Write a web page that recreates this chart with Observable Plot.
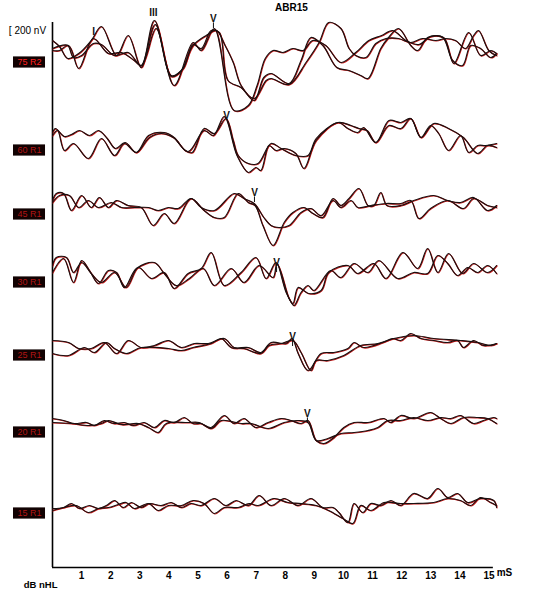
<!DOCTYPE html>
<html><head><meta charset="utf-8">
<script src="https://cdn.jsdelivr.net/npm/d3@7"></script>
<script src="https://cdn.jsdelivr.net/npm/@observablehq/plot@0.6"></script>
<style>html,body{margin:0;padding:0;background:#fff}</style>
</head><body><div id="chart"></div>
<script>
// ---------- data ----------
const title = "ABR15";
const scaleLabel = "[ 200 nV";
const xUnit = "mS";
const levelUnit = "dB nHL";
const xTicks = [1,2,3,4,5,6,7,8,9,10,11,12,13,14,15];
const rowLabels = ["75 R2","60 R1","45 R1","30 R1","25 R1","20 R1","15 R1"];

// peak markers (time ms, amplitude nV in plot coordinates)
const waveNames  = ["I","III","V","V","V","V","V","V"];
const waveTimes  = [1.41, 3.47, 5.53, 5.98, 6.94, 7.70, 8.25, 8.76];
const waveValues = [155, 250, 220, -265, -650, -1000, -1370, -1755];
const waveHasTick = [false, false, true, false, true, true, true, true];

// waveforms: [time ms, amplitude nV] relative to each row baseline
const r75a = [[0,110],[0.24,80],[0.52,20],[0.90,45],[1.33,110],[1.68,180],[2.20,35],[2.60,135],[3.05,-25],[3.50,210],[4.18,-115],[4.83,100],[5.11,60],[5.56,170],[6.24,-240],[6.73,-215],[7.03,-115],[7.31,20],[7.58,60],[7.92,50],[8.26,70],[8.61,60],[8.94,110],[9.39,85],[9.91,0],[10.42,50],[10.87,110],[11.31,135],[11.69,160],[12.14,110],[12.59,90],[12.99,130],[13.41,125],[13.75,10],[14.09,-15],[14.37,85],[14.71,70],[15.06,25],[15.26,45]];
const r75b = [[0,70],[0.55,85],[0.90,-30],[1.40,120],[1.92,45],[2.37,50],[2.81,10],[3.05,-15],[3.53,190],[4.08,-65],[4.49,-30],[4.83,90],[5.11,70],[5.45,160],[5.73,150],[6.03,-90],[6.48,-125],[6.93,-190],[7.26,-75],[7.51,-55],[8.13,-105],[8.54,10],[8.88,125],[9.29,85],[9.77,-25],[10.19,-40],[10.59,-65],[10.84,-80],[11.28,70],[11.52,120],[11.89,170],[12.31,85],[12.55,60],[12.89,125],[13.44,125],[13.79,-5],[14.30,150],[14.71,35],[15.06,60],[15.26,45]];
const r75c = [[0,60],[0.24,60],[0.52,85],[0.72,25],[1.00,35],[1.40,95],[1.68,90],[2.13,35],[2.60,50],[3.05,-15],[3.56,170],[4.08,-70],[4.43,-40],[4.83,85],[5.28,135],[5.63,160],[5.93,85],[6.21,0],[6.48,-115],[6.93,-180],[7.34,-90],[7.51,-80],[8.13,-110],[8.71,0],[9.16,100],[9.49,200],[9.91,170],[10.19,70],[10.42,35],[10.77,25],[11.11,95],[11.46,120],[11.89,120],[12.31,100],[12.72,120],[13.17,110],[13.51,120],[13.85,110],[14.19,70],[14.47,135],[14.64,160],[14.99,60],[15.26,35]];

const r60a = [[0,90],[0.10,110],[0.41,70],[0.65,80],[0.93,100],[1.27,75],[1.58,100],[1.88,60],[2.16,10],[2.50,40],[2.88,-10],[3.33,65],[3.73,85],[4.15,65],[4.66,-5],[5.21,100],[5.53,75],[5.90,170],[6.34,-25],[6.73,-110],[6.99,-85],[7.16,-100],[7.44,25],[7.68,0],[7.96,10],[8.36,-15],[8.64,-90],[9.06,50],[9.81,140],[10.15,110],[10.49,90],[10.69,115],[11.11,40],[11.56,150],[11.97,140],[12.31,160],[12.66,65],[12.99,125],[13.27,85],[13.61,0],[14.02,75],[14.30,-10],[14.61,25],[14.89,25],[15.26,35]];
const r60b = [[0,75],[0.17,100],[0.41,0],[0.72,35],[1.23,-40],[1.68,60],[2.13,-25],[2.47,35],[2.88,-10],[3.30,75],[3.84,90],[4.18,65],[4.56,0],[4.80,-10],[5.21,110],[5.56,85],[5.96,160],[6.21,50],[6.38,-25],[6.73,-65],[7.06,-65],[7.51,35],[7.86,10],[8.36,-25],[8.78,-25],[9.06,60],[9.81,140],[10.26,125],[10.53,110],[10.81,100],[11.11,40],[11.56,125],[11.97,110],[12.31,160],[12.66,65],[13.10,135],[13.61,110],[14.12,65],[14.61,-15],[14.95,25],[15.26,15]];

const r45a = [[0,70],[0.13,105],[0.38,105],[0.65,20],[1.00,95],[1.33,35],[1.61,85],[1.92,35],[2.20,70],[2.60,45],[3.05,35],[3.46,-55],[3.84,5],[4.18,-45],[4.76,80],[5.21,20],[5.56,-15],[5.90,-15],[6.38,105],[6.73,60],[6.96,45],[7.23,-55],[7.58,-155],[7.96,-40],[8.26,10],[8.64,35],[8.95,5],[9.29,-15],[9.64,80],[9.91,45],[10.19,80],[10.53,130],[10.84,45],[11.04,45],[11.28,110],[11.49,45],[11.97,45],[12.41,70],[13.10,95],[13.58,70],[14.02,60],[14.47,85],[14.95,20],[15.26,45]];
const r45b = [[0,60],[0.24,95],[0.58,95],[0.90,35],[1.23,70],[1.58,35],[2.02,60],[2.37,35],[2.81,35],[3.30,35],[3.63,20],[3.98,35],[4.32,30],[4.76,80],[5.11,35],[5.56,20],[6.24,105],[6.58,80],[6.93,55],[7.26,-15],[7.51,-55],[7.78,-65],[8.13,-55],[8.54,10],[8.88,30],[9.23,-5],[9.64,70],[9.91,35],[10.26,70],[10.49,35],[10.94,45],[11.46,55],[11.97,55],[12.31,70],[12.59,-20],[12.99,30],[13.58,70],[14.12,30],[14.47,80],[14.95,45],[15.26,35]];

const r30a = [[0,85],[0.13,125],[0.48,125],[0.72,50],[1.00,100],[1.33,45],[1.68,0],[2.13,50],[2.53,-25],[2.95,75],[3.40,20],[3.84,50],[4.18,-30],[4.66,45],[5.11,70],[5.45,150],[5.90,-15],[6.48,50],[6.99,125],[7.34,20],[7.68,100],[8.13,-80],[8.30,-115],[8.54,-50],[8.78,-15],[8.98,-40],[9.56,60],[9.91,25],[10.36,95],[10.84,50],[11.21,110],[11.86,20],[12.41,50],[12.89,45],[13.24,135],[13.58,95],[13.92,35],[14.27,75],[14.61,50],[14.95,85],[15.26,45]];
const r30b = [[0,50],[0.38,120],[0.72,0],[1.00,110],[1.27,60],[1.58,-5],[1.92,60],[2.20,50],[2.47,-25],[2.88,70],[3.50,100],[3.84,45],[4.25,-15],[4.70,20],[5.18,70],[5.56,-15],[6.14,70],[6.58,0],[7.10,85],[7.58,25],[7.71,95],[8.03,-50],[8.26,-105],[8.44,-25],[8.81,-55],[9.23,-40],[9.49,50],[10.15,85],[10.49,45],[11.04,95],[11.46,20],[12.04,150],[12.55,70],[12.89,170],[13.24,50],[13.61,145],[14.09,45],[14.47,95],[14.95,50],[15.26,85]];

const r25a = [[0,75],[0.55,65],[0.90,35],[1.33,35],[1.78,65],[2.20,10],[2.60,75],[3.05,40],[3.50,50],[3.98,75],[4.43,40],[4.87,60],[5.35,60],[5.90,85],[6.24,40],[6.73,40],[7.16,15],[7.51,65],[8.03,60],[8.23,85],[8.44,10],[8.78,-75],[9.23,10],[9.67,15],[10.15,35],[10.36,65],[10.69,40],[11.35,65],[11.69,85],[11.97,75],[12.31,110],[12.66,85],[13.10,75],[13.58,65],[13.92,75],[14.12,40],[14.47,75],[14.81,50],[15.26,60]];
const r25b = [[0,10],[0.55,0],[1.10,40],[1.44,15],[1.85,65],[2.13,35],[2.53,10],[3.05,40],[3.98,35],[4.43,25],[4.83,40],[5.45,60],[5.80,85],[6.14,40],[6.58,35],[7.16,10],[7.44,50],[7.86,60],[8.26,75],[8.54,15],[8.88,-75],[9.06,-25],[9.46,-25],[10.01,0],[10.59,50],[11.18,60],[11.73,85],[12.41,100],[13.10,85],[14.02,75],[14.61,65],[15.06,50],[15.26,60]];

const r20a = [[0,70],[0.38,60],[0.75,45],[1.17,50],[1.44,35],[1.78,60],[2.10,45],[2.47,50],[2.78,35],[3.15,50],[3.50,25],[3.84,60],[4.18,50],[4.53,75],[4.83,45],[5.11,45],[5.45,25],[5.90,85],[6.24,45],[6.58,70],[6.99,25],[7.41,50],[7.86,70],[8.20,60],[8.54,45],[8.78,60],[9.06,-40],[9.33,-55],[9.67,-25],[10.01,25],[10.36,50],[10.84,50],[11.39,70],[11.62,50],[11.97,85],[12.41,70],[12.99,100],[13.34,70],[13.69,45],[14.12,75],[14.61,75],[14.95,70],[15.26,45]];
const r20b = [[0,50],[0.65,45],[1.27,35],[1.68,45],[1.92,60],[2.37,40],[2.95,45],[3.30,25],[3.63,0],[3.91,45],[4.66,50],[5.04,50],[5.45,20],[5.80,60],[6.48,45],[6.83,45],[7.41,20],[7.96,50],[8.44,60],[8.78,50],[9.06,-40],[9.46,-30],[9.91,-5],[10.36,0],[10.84,10],[11.18,25],[11.52,60],[11.97,60],[12.41,75],[12.89,60],[13.34,75],[13.69,70],[14.02,85],[14.47,45],[14.81,60],[15.16,75],[15.26,70]];

const r15a = [[0,25],[0.38,30],[0.65,50],[0.93,25],[1.27,40],[1.58,25],[1.85,40],[2.13,65],[2.43,30],[2.71,55],[3.05,30],[3.33,50],[3.73,40],[4.08,55],[4.43,30],[4.76,50],[5.11,40],[5.56,75],[5.96,40],[6.31,65],[6.73,40],[7.10,90],[7.51,40],[7.96,75],[8.44,40],[8.88,75],[9.29,30],[9.64,30],[9.84,5],[10.15,-45],[10.36,50],[10.66,5],[10.94,50],[11.28,40],[11.63,65],[11.97,40],[12.41,100],[12.89,75],[13.24,125],[13.58,80],[13.92,100],[14.27,55],[14.71,75],[15.16,65],[15.26,30]];
const r15b = [[0,15],[0.38,30],[0.82,40],[1.23,5],[1.58,25],[1.92,30],[2.26,45],[2.53,55],[2.81,25],[3.30,50],[3.63,15],[3.98,40],[4.43,40],[4.83,65],[5.21,50],[5.56,0],[5.90,30],[6.38,30],[6.76,50],[7.06,40],[7.61,75],[8.09,55],[8.54,50],[9.06,40],[9.49,15],[9.98,-25],[10.32,-50],[10.59,40],[10.94,15],[11.39,55],[11.97,50],[12.41,50],[13.10,55],[13.58,75],[14.02,65],[14.37,40],[14.71,80],[15.06,55],[15.26,40]];

// ---------- layout ----------
const rowOffset = [0, -440, -760, -1100, -1465, -1850, -2255]; // nV baseline per row
const traces = [
  [0, r75a], [0, r75b], [0, r75c],
  [1, r60a], [1, r60b],
  [2, r45a], [2, r45b],
  [3, r30a], [3, r30b],
  [4, r25a], [4, r25b],
  [5, r20a], [5, r20b],
  [6, r15a], [6, r15b]
];
const lineData = traces.flatMap(([row, pts], id) =>
  pts.map(([t, v]) => ({id, t, v: v + rowOffset[row]})));
const labelData = rowLabels.map((label, i) => ({label, y: rowOffset[i], first: i === 0}));
const waveData = waveNames.map((name, i) => ({name, t: waveTimes[i], v: waveValues[i], tick: waveHasTick[i]}));

const yBottom = -2525, yTop = 210;
const font = "Liberation Sans, Arial, sans-serif";

const chart = Plot.plot({
  width: 541, height: 600,
  marginLeft: 52, marginRight: 52.5, marginTop: 20, marginBottom: 33,
  x: {domain: [0, 15], axis: null},
  y: {domain: [yBottom, yTop], axis: null},
  style: {fontFamily: font, background: "#fff", color: "#000"},
  marks: [
    // axes frame
    Plot.ruleY([yBottom], {x1: 0, x2: 15.15, stroke: "#000", strokeWidth: 1.6}),
    Plot.ruleX([0], {y1: 200, y2: yBottom, stroke: "#000", strokeWidth: 1.6}),
    Plot.axisX({ticks: xTicks, tickSize: 0, tickPadding: 4, label: null, fontSize: 10, fontWeight: "bold", tickFormat: d => String(d)}),
    // waveforms: red fringe then dark line
    Plot.line(lineData, {x: "t", y: "v", z: "id", curve: "catmull-rom", stroke: "#c81818", strokeWidth: 1.2, dx: 0.5, dy: 0.5}),
    Plot.line(lineData, {x: "t", y: "v", z: "id", curve: "catmull-rom", stroke: "#1a1010", strokeWidth: 1.15}),
    // row labels
    Plot.rect(labelData, {x1: -1.34, x2: -0.24, y1: d => d.y - 28, y2: d => d.y + 28, fill: "#120202"}),
    Plot.text(labelData, {x: -0.79, y: "y", text: "label", fill: d => d.first ? "#ff2020" : "#b01515", fontSize: 9, fontFamily: font}),
    // wave markers
    Plot.text(waveData, {x: "t", y: "v", text: "name", fontSize: 10, fontWeight: "bold", fill: "#111"}),
    Plot.ruleX(waveData.filter(d => d.tick), {x: "t", y1: d => d.v - 22, y2: d => d.v - 50, stroke: "#111", strokeWidth: 1}),
    // texts
    Plot.text([title], {x: 8.21, y: 275, text: d => d, fontSize: 10, fontWeight: "bold"}),
    Plot.text([scaleLabel], {x: -0.86, y: 160, text: d => d, fontSize: 10}),
    Plot.text([levelUnit], {x: -0.41, y: -2610, text: d => d, fontSize: 9.5, fontWeight: "bold"}),
    Plot.text([xUnit], {x: 15.53, y: yBottom - 28, text: d => d, fontSize: 10, fontWeight: "bold"})
  ]
});
document.getElementById("chart").append(chart);
</script>
</body></html>
